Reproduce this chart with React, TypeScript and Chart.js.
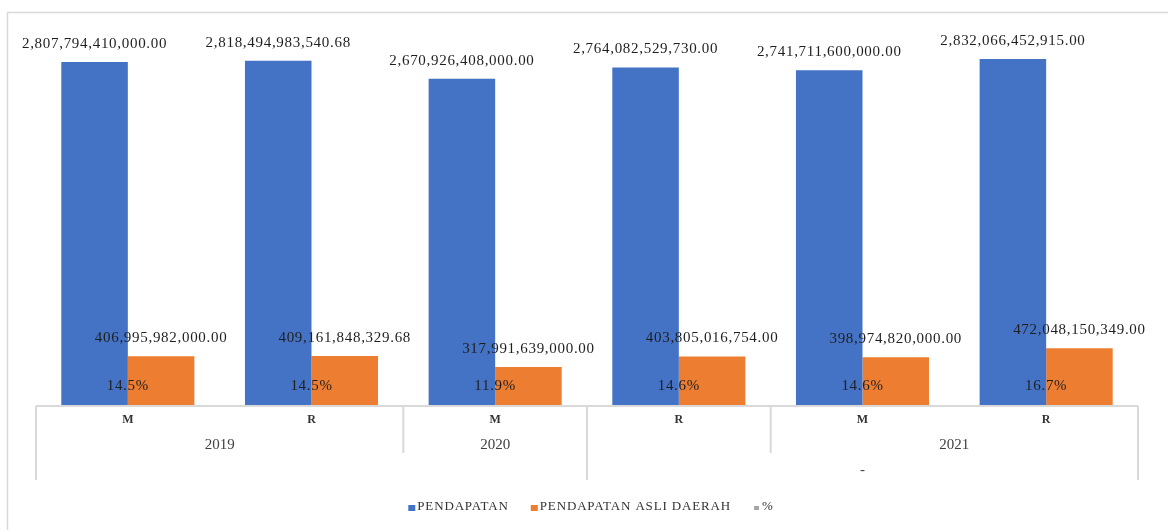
import React, { useEffect, useRef } from 'react';
import { Chart, registerables } from 'chart.js';

Chart.register(...registerables);

// ---- data ----
const categories = ['M', 'R', 'M', 'R', 'M', 'R'];
const pendapatan = [2807794410000.0, 2818494983540.68, 2670926408000.0, 2764082529730.0, 2741711600000.0, 2832066452915.0];
const pendapatanAsliDaerah = [406995982000.0, 409161848329.68, 317991639000.0, 403805016754.0, 398974820000.0, 472048150349.0];
const persen = [14.5, 14.5, 11.9, 14.6, 14.6, 16.7];
const seriesNames = ['PENDAPATAN', 'PENDAPATAN ASLI DAERAH', '%'];
// second and third rows of the multi-level category axis: [label, firstIndex, lastIndex]
const yearGroups: [string, number, number][] = [['2019', 0, 1], ['2020', 2, 2], ['', 3, 3], ['2021', 4, 5]];
const outerGroups: [string, number, number][] = [['', 0, 2], ['-', 3, 5]];

const COLORS = ['#4472C4', '#ED7D31', '#A5A5A5'];
const SERIF = '"Liberation Serif", "DejaVu Serif", serif';

const fmtMoney = (v: number) =>
  v.toLocaleString('en-US', { minimumFractionDigits: 2, maximumFractionDigits: 2 });

const decorPlugin = {
  id: 'decor',
  beforeDraw(chart: any) {
    const ctx = chart.ctx as CanvasRenderingContext2D;
    ctx.save();
    ctx.strokeStyle = '#d9d9d9';
    ctx.lineWidth = 1.5;
    ctx.beginPath();
    ctx.moveTo(7.5, chart.height);
    ctx.lineTo(7.5, 12.5);
    ctx.lineTo(chart.width, 12.5);
    ctx.stroke();
    ctx.restore();
  },
  afterDatasetsDraw(chart: any) {
    const ctx = chart.ctx as CanvasRenderingContext2D;
    const area = chart.chartArea;
    const xs = chart.scales.x;
    const n = categories.length;
    const step = (area.right - area.left) / n;
    const edge = (i: number) => area.left + step * i;
    const axisY = area.bottom;
    const row1Y = axisY + 14;
    const row2Y = axisY + 39;
    const row3Y = axisY + 64;
    const row2Bottom = axisY + 47;
    const row3Bottom = axisY + 74;

    ctx.save();
    // axis lines
    ctx.strokeStyle = '#d9d9d9';
    ctx.lineWidth = 2;
    ctx.beginPath();
    ctx.moveTo(area.left, axisY);
    ctx.lineTo(area.right, axisY);
    ctx.stroke();
    const full = new Set<number>();
    outerGroups.forEach(([, a, b]) => { full.add(a); full.add(b + 1); });
    const partial = new Set<number>();
    yearGroups.forEach(([, a, b]) => { partial.add(a); partial.add(b + 1); });
    ctx.beginPath();
    for (let i = 0; i <= n; i++) {
      if (full.has(i)) {
        ctx.moveTo(edge(i), axisY);
        ctx.lineTo(edge(i), row3Bottom);
      } else if (partial.has(i)) {
        ctx.moveTo(edge(i), axisY);
        ctx.lineTo(edge(i), row2Bottom);
      }
    }
    ctx.stroke();

    // axis labels
    ctx.fillStyle = '#333333';
    ctx.textAlign = 'center';
    ctx.textBaseline = 'middle';
    ctx.font = `bold 12px ${SERIF}`;
    categories.forEach((c, i) => ctx.fillText(c, xs.getPixelForValue(i), row1Y));
    ctx.fillStyle = '#404040';
    ctx.font = `15px ${SERIF}`;
    yearGroups.forEach(([t, a, b]) => {
      if (t) ctx.fillText(t, (xs.getPixelForValue(a) + xs.getPixelForValue(b)) / 2, row2Y);
    });
    outerGroups.forEach(([t, a, b]) => {
      if (t) ctx.fillText(t, (xs.getPixelForValue(a) + xs.getPixelForValue(b)) / 2, row3Y);
    });

    // data labels
    ctx.fillStyle = '#1f1f1f';
    ctx.font = `15px ${SERIF}`;
    (ctx as any).letterSpacing = '0.7px';
    [0, 1].forEach((di) => {
      const meta = chart.getDatasetMeta(di);
      const vals = di === 0 ? pendapatan : pendapatanAsliDaerah;
      meta.data.forEach((el: any, i: number) => {
        ctx.fillText(fmtMoney(vals[i]), el.x, el.y - 18);
      });
    });
    persen.forEach((p, i) => {
      ctx.fillText(p.toFixed(1) + '%', xs.getPixelForValue(i), axisY - 20);
    });

    // legend
    ctx.font = `13px ${SERIF}`;
    (ctx as any).letterSpacing = '0.85px';
    ctx.textAlign = 'left';
    const legendY = 507;
    const box = 7;
    const gapBox = 2;
    const gapItem = 22;
    const widths = seriesNames.map((s) => box + gapBox + ctx.measureText(s).width);
    const total = widths.reduce((a, b) => a + b, 0) + gapItem * (widths.length - 1);
    let x = 591 - total / 2;
    seriesNames.forEach((s, i) => {
      ctx.fillStyle = COLORS[i];
      const bw = i === 2 ? 5 : box;
      ctx.fillRect(x + (box - bw) / 2, legendY - 3 + (box - bw) / 2 + 1, bw, bw - 1);
      ctx.fillStyle = '#333333';
      ctx.fillText(s, x + box + gapBox, legendY);
      x += widths[i] + gapItem;
    });
    ctx.restore();
  },
};

export default function App() {
  const ref = useRef<HTMLCanvasElement | null>(null);
  useEffect(() => {
    if (!ref.current) return;
    const chart = new Chart(ref.current, {
      type: 'bar',
      data: {
        labels: categories,
        datasets: [
          {
            label: seriesNames[0],
            data: pendapatan,
            backgroundColor: COLORS[0],
            categoryPercentage: 0.7245,
            barPercentage: 1,
          },
          {
            label: seriesNames[1],
            data: pendapatanAsliDaerah,
            backgroundColor: COLORS[1],
            categoryPercentage: 0.7245,
            barPercentage: 1,
          },
          {
            label: seriesNames[2],
            data: persen,
            backgroundColor: 'rgba(0,0,0,0)',
            yAxisID: 'y2',
            grouped: false,
          } as any,
        ],
      },
      options: {
        responsive: false,
        animation: false,
        layout: { padding: { left: 36, right: 30, top: 38.5, bottom: 124 } },
        plugins: { legend: { display: false }, tooltip: { enabled: false } },
        scales: {
          x: { display: false, grid: { display: false } },
          y: { display: false, min: 0, max: 3e12 },
          y2: { display: false, min: 0, max: 1e9 },
        },
      },
      plugins: [decorPlugin],
    });
    return () => chart.destroy();
  }, []);
  return (
    <div style={{ position: 'fixed', left: 0, top: 0, width: 1168, height: 530, background: '#fff' }}>
      <canvas ref={ref} width={1168} height={530} style={{ display: 'block' }} />
    </div>
  );
}
